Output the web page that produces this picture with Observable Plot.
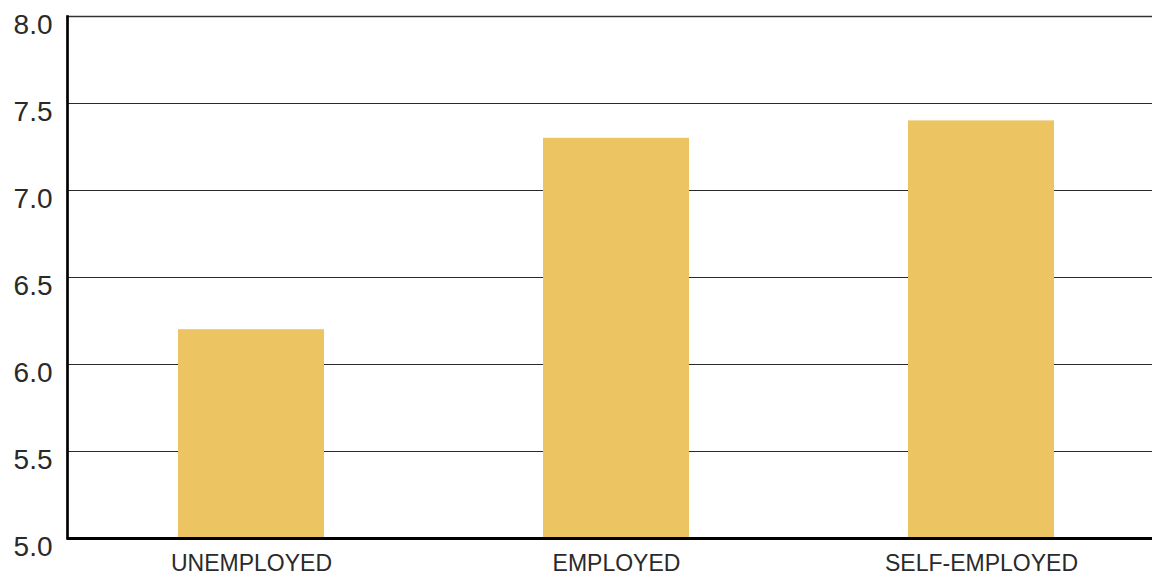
<!DOCTYPE html>
<html>
<head>
<meta charset="utf-8">
<script src="https://cdn.jsdelivr.net/npm/d3@7"></script>
<script src="https://cdn.jsdelivr.net/npm/@observablehq/plot@0.6"></script>
<style>
  html, body { margin: 0; padding: 0; background: #fff; overflow: hidden; }
  svg { display: block; }
</style>
</head>
<body>
<div id="chart"></div>
<script>
const categories = ["UNEMPLOYED", "EMPLOYED", "SELF-EMPLOYED"];
const values = [6.2, 7.3, 7.4];
const yDomain = [5.0, 8.0];
const yTicks = [5.0, 5.5, 6.0, 6.5, 7.0, 7.5, 8.0];

const data = categories.map((c, i) => ({category: c, value: values[i]}));
const font = "'Liberation Sans', Arial, Helvetica, sans-serif";

const chart = Plot.plot({
  width: 1152,
  height: 578,
  marginTop: 16,
  marginBottom: 40,
  marginLeft: 67,
  marginRight: 0,
  style: {fontFamily: font, background: "#fff", color: "#222"},
  x: {domain: categories, paddingInner: 0.601, paddingOuter: 0.283, align: 0.531, label: null},
  y: {domain: yDomain, ticks: yTicks, label: null},
  marks: [
    Plot.ruleY(yTicks, {stroke: "#2a2a2a", strokeWidth: 1.1}),
    Plot.ruleY([yDomain[1]], {stroke: "#333", strokeWidth: 1.6}),
    Plot.barY(data, {x: "category", y1: () => yDomain[0], y2: "value", fill: "#ECC462"}),
    Plot.ruleY([yDomain[0]], {stroke: "#000", strokeWidth: 3}),
    Plot.frame({anchor: "left", stroke: "#000", strokeWidth: 2.7}),
    Plot.axisY({ticks: yTicks, tickSize: 0, tickPadding: 15, tickFormat: d3.format(".1f"), fontSize: 28, dy: 9, fill: "#2a2a2a", label: null}),
    Plot.axisX({tickSize: 0, tickPadding: 16, fontSize: 23, fill: "#2a2a2a", label: null})
  ]
});
document.getElementById("chart").appendChild(chart);
</script>
</body>
</html>
